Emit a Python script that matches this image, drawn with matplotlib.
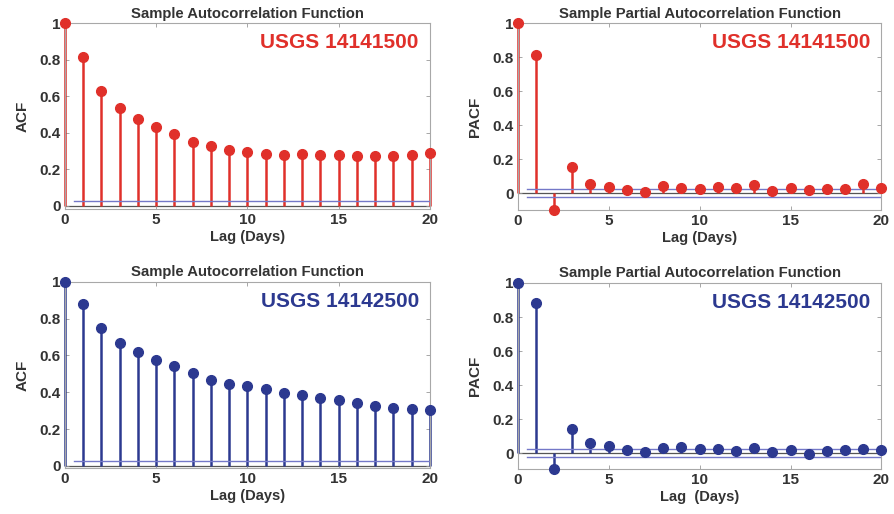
import matplotlib
matplotlib.use("Agg")
from matplotlib import pyplot as plt
from matplotlib.ticker import FuncFormatter
import numpy as np

plt.rcParams['font.family'] = ['Liberation Sans', 'DejaVu Sans']
plt.rcParams['font.weight'] = 'bold'

lags = np.arange(0, 21)

acf_14141500 = [1.0, 0.815, 0.630, 0.533, 0.476, 0.433, 0.391, 0.348, 0.326, 0.308, 0.295,
                0.286, 0.279, 0.283, 0.279, 0.277, 0.275, 0.275, 0.272, 0.279, 0.290]
pacf_14141500 = [1.0, 0.811, -0.098, 0.152, 0.055, 0.035, 0.020, 0.006, 0.043, 0.029, 0.025,
                 0.035, 0.029, 0.047, 0.014, 0.029, 0.020, 0.025, 0.025, 0.055, 0.029]
acf_14142500 = [1.0, 0.879, 0.752, 0.670, 0.618, 0.578, 0.542, 0.502, 0.469, 0.447, 0.433,
                0.415, 0.395, 0.386, 0.371, 0.357, 0.342, 0.326, 0.315, 0.310, 0.303]
pacf_14142500 = [1.0, 0.881, -0.092, 0.143, 0.061, 0.045, 0.020, 0.006, 0.029, 0.039, 0.023,
                 0.023, 0.012, 0.029, 0.006, 0.016, -0.004, 0.012, 0.016, 0.027, 0.016]

bound = 0.025
red = '#e0302a'
blue = '#2c3990'
bound_color = '#7478c8'
text_color = '#333333'

fig = plt.figure(figsize=(8.94, 5.14), dpi=100)

panels = [
    # (rect, values, colour, station, ylabel, title, xlabel, ylim)
    ([0.0727, 0.593, 0.408, 0.362], acf_14141500, red, 'USGS 14141500', 'ACF',
     'Sample Autocorrelation Function', 'Lag (Days)', (-0.018, 1.0)),
    ([0.579, 0.591, 0.407, 0.364], pacf_14141500, red, 'USGS 14141500', 'PACF',
     'Sample Partial Autocorrelation Function', 'Lag (Days)', (-0.1, 1.0)),
    ([0.0727, 0.0895, 0.408, 0.362], acf_14142500, blue, 'USGS 14142500', 'ACF',
     'Sample Autocorrelation Function', 'Lag (Days)', (-0.012, 1.0)),
    ([0.579, 0.0875, 0.407, 0.362], pacf_14142500, blue, 'USGS 14142500', 'PACF',
     'Sample Partial Autocorrelation Function', 'Lag  (Days)', (-0.093, 1.0)),
]


def fmt(v, pos):
    if abs(v) < 1e-9:
        return '0'
    if abs(v - 1) < 1e-9:
        return '1'
    return '%.1f' % v


for rect, vals, col, station, ylab, title, xlab, ylim in panels:
    ax = fig.add_axes(rect)
    ml, sl, bl = ax.stem(lags, vals, basefmt=' ')
    plt.setp(sl, color=col, linewidth=1.8, clip_on=False)
    plt.setp(ml, color=col, markersize=7, zorder=4, clip_on=False)
    ax.axhline(0, color='#555555', linewidth=0.9, zorder=1)
    ax.plot([0.5, 20], [bound, bound], color=bound_color, linewidth=1.0, zorder=2)
    ax.plot([0.5, 20], [-bound, -bound], color=bound_color, linewidth=1.0, zorder=2)

    ax.set_xlim(0, 20)
    ax.set_ylim(*ylim)
    ax.set_xticks([0, 5, 10, 15, 20])
    ax.set_yticks([0, 0.2, 0.4, 0.6, 0.8, 1.0])
    ax.yaxis.set_major_formatter(FuncFormatter(fmt))
    ax.tick_params(direction='in', length=3, width=0.6, color='#999999',
                   labelsize=11, labelcolor=text_color, top=True, right=True, pad=3)
    for s in ax.spines.values():
        s.set_color('#a8a8a8')
        s.set_linewidth(0.8)

    ax.set_title(title, fontsize=10.7, fontweight='bold', color=text_color, pad=4)
    ax.set_xlabel(xlab, fontsize=10.5, fontweight='bold', color=text_color, labelpad=2)
    ax.set_ylabel(ylab, fontsize=11, fontweight='bold', color=text_color, labelpad=7)
    ax.text(0.97, 0.945, station, transform=ax.transAxes, ha='right', va='top',
            fontsize=15, fontweight='bold', color=col)

fig.savefig('out.png', dpi=100)
